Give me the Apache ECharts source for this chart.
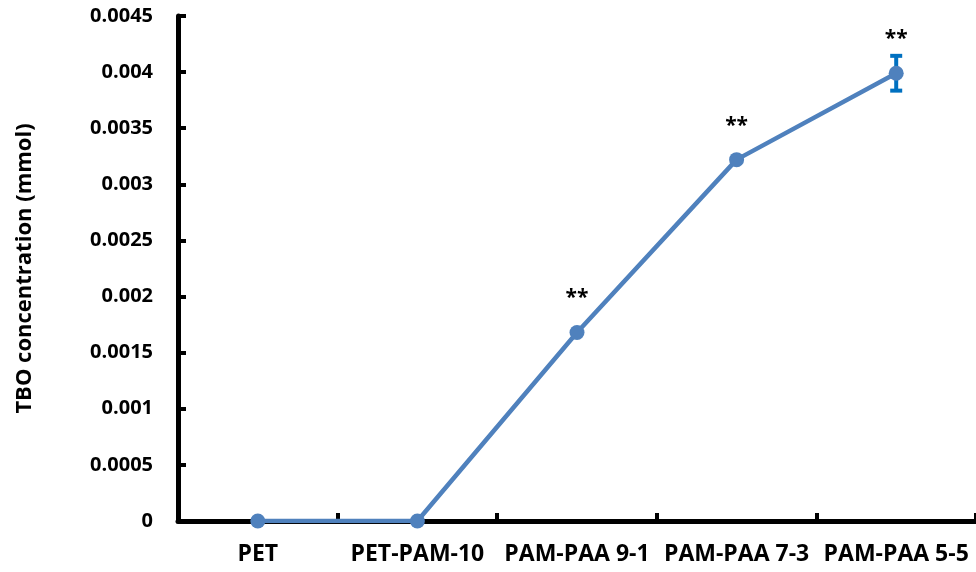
<!DOCTYPE html>
<html>
<head>
<meta charset="utf-8">
<script src="https://cdn.jsdelivr.net/npm/echarts@6/dist/echarts.min.js"></script>
<style>
html,body{margin:0;padding:0;background:#fff;}
#chart{width:976px;height:572px;}
</style>
</head>
<body>
<div id="chart"></div>
<script>
const categories = ['PET', 'PET-PAM-10', 'PAM-PAA 9-1', 'PAM-PAA 7-3', 'PAM-PAA 5-5'];
const values = [0, 0, 0.00168, 0.00322, 0.00399];
const errors = [null, null, null, null, 0.000155];
const significance = ['', '', '**', '**', '**'];
const yTickLabels = ['0', '0.0005', '0.001', '0.0015', '0.002', '0.0025', '0.003', '0.0035', '0.004', '0.0045'];
const yTitle = 'TBO concentration (mmol)';

const FONT = '"Open Sans", "DejaVu Sans", sans-serif';
const chart = echarts.init(document.getElementById('chart'), null, {renderer: 'canvas'});

const errData = values.map((v, i) => errors[i] == null ? null : [i, v - errors[i], v + errors[i]]).filter(d => d);

chart.setOption({
  animation: false,
  backgroundColor: '#ffffff',
  grid: {left: 178, top: 16, width: 802, height: 505, containLabel: false},
  xAxis: {
    type: 'category',
    data: categories,
    boundaryGap: true,
    axisLine: {show: true, lineStyle: {color: '#000', width: 5}},
    axisTick: {show: true, inside: true, length: 8, lineStyle: {color: '#000', width: 4}},
    axisLabel: {color: '#000', fontFamily: FONT, fontWeight: 'bold', fontSize: 23, margin: 22, interval: 0},
    splitLine: {show: false}
  },
  yAxis: {
    type: 'value',
    min: 0, max: 0.0045, interval: 0.0005,
    name: yTitle,
    nameLocation: 'middle',
    nameGap: 142,
    nameRotate: 90,
    nameTextStyle: {color: '#000', fontFamily: FONT, fontWeight: 'bold', fontSize: 22},
    axisLine: {show: true, lineStyle: {color: '#000', width: 5}},
    axisTick: {show: true, inside: true, length: 8, lineStyle: {color: '#000', width: 4}},
    axisLabel: {
      color: '#000', fontFamily: FONT, fontWeight: 'bold', fontSize: 20, margin: 25,
      formatter: (v) => {
        const idx = Math.round(v / 0.0005);
        return yTickLabels[idx] !== undefined ? yTickLabels[idx] : '';
      }
    },
    splitLine: {show: false}
  },
  series: [
    {
      type: 'custom',
      z: 2,
      data: errData,
      renderItem: function (params, api) {
        const x = api.coord([api.value(0), api.value(1)])[0];
        const yLow = api.coord([api.value(0), api.value(1)])[1];
        const yHigh = api.coord([api.value(0), api.value(2)])[1];
        const hw = 6;
        const style = {stroke: '#0070C0', lineWidth: 4, fill: 'none'};
        return {
          type: 'group',
          children: [
            {type: 'line', shape: {x1: x, y1: yLow, x2: x, y2: yHigh}, style: style},
            {type: 'line', shape: {x1: x - hw, y1: yLow, x2: x + hw, y2: yLow}, style: style},
            {type: 'line', shape: {x1: x - hw, y1: yHigh, x2: x + hw, y2: yHigh}, style: style}
          ]
        };
      }
    },
    {
      type: 'line',
      z: 3,
      data: values,
      symbol: 'circle',
      symbolSize: 15,
      lineStyle: {color: '#4F81BD', width: 4.5},
      itemStyle: {color: '#4F81BD'},
      label: {
        show: true,
        position: 'top',
        distance: 16,
        color: '#000',
        fontFamily: FONT,
        fontWeight: 'bold',
        fontSize: 21,
        formatter: (p) => significance[p.dataIndex]
      }
    }
  ]
});
</script>
</body>
</html>
